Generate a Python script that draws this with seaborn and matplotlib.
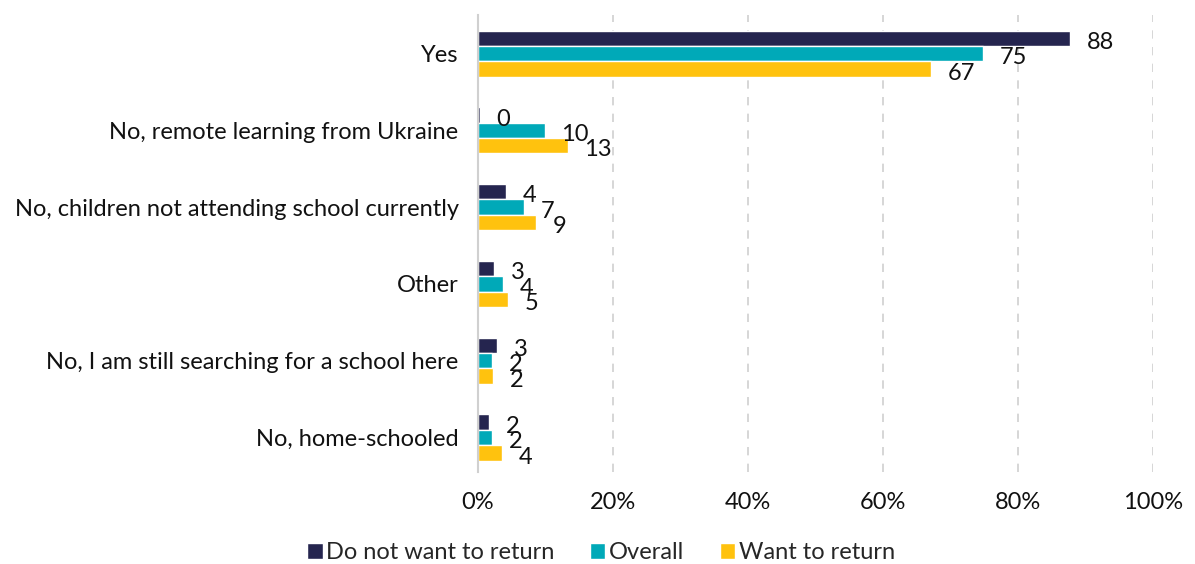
import matplotlib
matplotlib.use("Agg")
import matplotlib.pyplot as plt
import seaborn as sns
import pandas as pd

categories = ["Yes", "No, remote learning from Ukraine", "No, children not attending school currently",
              "Other", "No, I am still searching for a school here", "No, home-schooled"]
series_names = ["Do not want to return", "Overall", "Want to return"]
do_not_want = [87.7, 0.3, 4.1, 2.4, 2.8, 1.6]
overall = [74.8, 9.9, 6.8, 3.7, 2.1, 2.1]
want_return = [67.1, 13.3, 8.6, 4.4, 2.2, 3.6]
do_not_want_labels = [88, 0, 4, 3, 3, 2]
overall_labels = [75, 10, 7, 4, 2, 2]
want_return_labels = [67, 13, 9, 5, 2, 4]
x_ticks = [0, 20, 40, 60, 80, 100]
x_tick_labels = ["0%", "20%", "40%", "60%", "80%", "100%"]
colors = ["#25254f", "#00a9b8", "#ffc20e"]

rows = []
for vals in zip(categories, do_not_want, overall, want_return):
    cat = vals[0]
    for name, v in zip(series_names, vals[1:]):
        rows.append({"category": cat, "series": name, "value": v})
df = pd.DataFrame(rows)
label_map = dict(zip(series_names, [do_not_want_labels, overall_labels, want_return_labels]))

sns.set_theme(style="white")
plt.rcParams['font.family'] = ['Lato', 'DejaVu Sans']
FS = 17

fig = plt.figure(figsize=(11.95, 5.64), dpi=100)
ax = fig.add_axes([0.4, 0.163, 0.565, 0.81])
sns.barplot(data=df, y="category", x="value", hue="series", order=categories,
            hue_order=series_names, palette=colors, orient="h", width=0.6,
            saturation=1, ax=ax, legend=True)

for name, cont in zip(series_names, ax.containers):
    labs = label_map[name]
    for bar, lab in zip(cont, labs):
        ax.annotate(str(lab), xy=(bar.get_width(), bar.get_y() + bar.get_height() / 2),
                    xytext=(12, -3), textcoords="offset points", ha="left", va="center",
                    fontsize=FS, color="#111111")

ax.set_xlim(0, 100)
ax.set_ylim(5.45, -0.5)
ax.set_xticks(x_ticks)
ax.set_xticklabels(x_tick_labels, fontsize=FS, color="#111111")
ax.tick_params(axis="x", length=0, pad=14)
ax.tick_params(axis="y", length=0, pad=14, labelsize=FS, labelcolor="#111111")
ax.set_xlabel("")
ax.set_ylabel("")
for g in x_ticks[1:]:
    ax.axvline(g, color="#d0d0d0", linestyle=(0, (5, 5)), linewidth=1.2, zorder=0)
for s in ["top", "right", "bottom"]:
    ax.spines[s].set_visible(False)
ax.spines["left"].set_color("#d0d0d0")
ax.spines["left"].set_linewidth(1.5)

handles, labels = ax.get_legend_handles_labels()
ax.legend_.remove()
fig.legend(handles, labels, loc="center", bbox_to_anchor=(0.503, 0.02), ncol=3,
           frameon=False, fontsize=FS, handlelength=0.65, handleheight=0.65,
           handletextpad=0.15, columnspacing=1.5, borderaxespad=0, borderpad=0)

fig.savefig("out.png", dpi=100)
